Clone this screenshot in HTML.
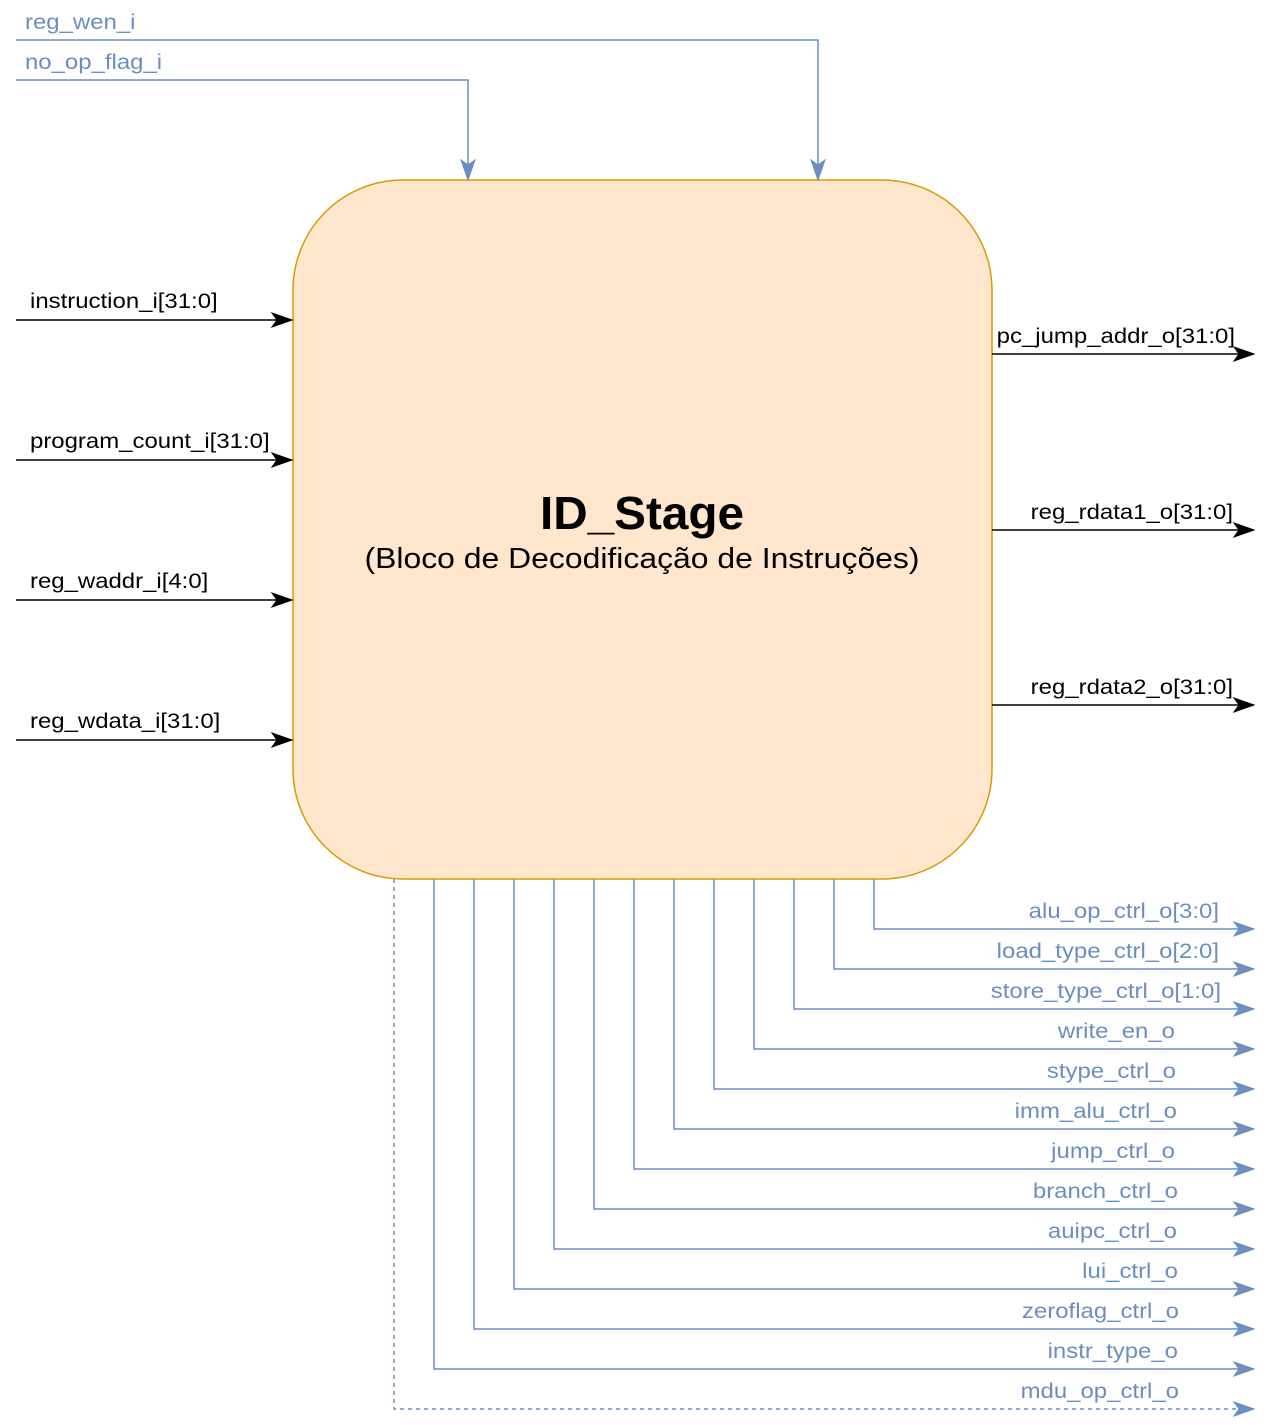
<!DOCTYPE html>
<html><head><meta charset="utf-8"><style>
html,body{margin:0;padding:0;background:#fff;}
svg{display:block;font-family:"Liberation Sans",sans-serif;}
</style></head><body>
<svg id="d" width="1273" height="1425" viewBox="0 0 1273 1425" xmlns="http://www.w3.org/2000/svg">
<rect x="293" y="180" width="699" height="699" rx="110" ry="110" fill="#ffe6cc" stroke="#d79b00" stroke-width="1.5"/>
<text x="642" y="529" text-anchor="middle" font-size="46" font-weight="bold" textLength="204" lengthAdjust="spacingAndGlyphs">ID_Stage</text>
<text x="642" y="568" text-anchor="middle" font-size="29" textLength="555" lengthAdjust="spacingAndGlyphs">(Bloco de Decodificação de Instruções)</text>
</svg>
<script>
const topNames=["reg_wen_i","no_op_flag_i"];
const topY=[40,80];
const topX=[818,468];
const leftNames=["instruction_i[31:0]","program_count_i[31:0]","reg_waddr_i[4:0]","reg_wdata_i[31:0]"];
const leftY=[320,460,600,740];
const rightNames=["pc_jump_addr_o[31:0]","reg_rdata1_o[31:0]","reg_rdata2_o[31:0]"];
const rightY=[354,530,705];
const rightEnd=[1235,1233,1233];
const botNames=["alu_op_ctrl_o[3:0]","load_type_ctrl_o[2:0]","store_type_ctrl_o[1:0]","write_en_o","stype_ctrl_o","imm_alu_ctrl_o","jump_ctrl_o","branch_ctrl_o","auipc_ctrl_o","lui_ctrl_o","zeroflag_ctrl_o","instr_type_o","mdu_op_ctrl_o"];
const botX=[874,834,794,754,714,674,634,594,554,514,474,434,394];
const botY=[929,969,1009,1049,1089,1129,1169,1209,1249,1289,1329,1369,1409];
const botEnd=[1219,1219,1221,1175,1176,1177,1175,1178,1177,1178,1179,1178,1179];
const NS="http://www.w3.org/2000/svg";
const svg=document.getElementById('d');
const BLUE="#6c8ebf";
function mk(tag,attrs){const e=document.createElementNS(NS,tag);for(const k in attrs)e.setAttribute(k,attrs[k]);svg.appendChild(e);return e;}
function arrowR(x,y,c){return mk('polygon',{points:`${x},${y} ${x-20},${y-7} ${x-15},${y} ${x-20},${y+7}`,fill:c,stroke:c});}
function arrowD(x,y,c){return mk('polygon',{points:`${x},${y} ${x-7},${y-20} ${x},${y-15} ${x+7},${y-20}`,fill:c,stroke:c});}
function txt(s,x,y,anchor,c){const t=mk('text',{x:x,y:y,'text-anchor':anchor,'font-size':21,fill:c});t.textContent=s;
  const L=t.getComputedTextLength();t.setAttribute('textLength',(L*1.14).toFixed(1));t.setAttribute('lengthAdjust','spacingAndGlyphs');return t;}
topNames.forEach((n,i)=>{
  const p=mk('polyline',{points:`16,${topY[i]} ${topX[i]},${topY[i]} ${topX[i]},165`,fill:'none',stroke:BLUE,'stroke-width':1.5});
  
  
  const a=arrowD(topX[i],180,BLUE);
  
  
  const t=txt(n,25,topY[i]-11,'start',BLUE);
  
  
});
leftNames.forEach((n,i)=>{
  const p=mk('line',{x1:16,y1:leftY[i],x2:277,y2:leftY[i],stroke:'#000','stroke-width':1.5});
  
  
  const a=arrowR(292,leftY[i],'#000');
  
  
  const t=txt(n,30,leftY[i]-12,'start','#000');
  
  
});
rightNames.forEach((n,i)=>{
  const p=mk('line',{x1:992,y1:rightY[i],x2:1239,y2:rightY[i],stroke:'#000','stroke-width':1.5});
  
  
  const a=arrowR(1254,rightY[i],'#000');
  
  
  const t=txt(n,rightEnd[i],rightY[i]-11,'end','#000');
  
  
});
botNames.forEach((n,i)=>{
  const attrs={points:`${botX[i]},879 ${botX[i]},${botY[i]} 1239,${botY[i]}`,fill:'none',stroke:BLUE,'stroke-width':1.5};
  if(i===botNames.length-1)attrs['stroke-dasharray']='4 4';
  const p=mk('polyline',attrs);
  
  
  const a=arrowR(1254,botY[i],BLUE);
  
  
  const t=txt(n,botEnd[i],botY[i]-11,'end',BLUE);
  
  
});
</script>
</body></html>
